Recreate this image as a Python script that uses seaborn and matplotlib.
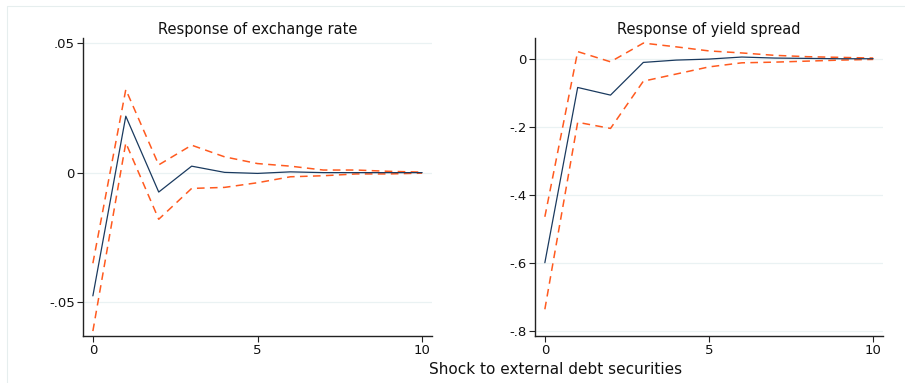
import matplotlib
matplotlib.use("Agg")
import matplotlib.pyplot as plt
import seaborn as sns
import pandas as pd
import numpy as np
from matplotlib.lines import Line2D

sns.set_theme(style="white")
plt.rcParams['font.family'] = ['DejaVu Sans']

steps = list(range(11))

# Response of exchange rate
er_irf = [-0.0476, 0.0218, -0.0075, 0.0025, 0.0001, -0.0003, 0.0003, 0.0, 0.0, 0.0, 0.0]
er_upper = [-0.035, 0.0321, 0.003, 0.0106, 0.0061, 0.0035, 0.0025, 0.001, 0.001, 0.0005, 0.0002]
er_lower = [-0.0612, 0.0115, -0.018, -0.0061, -0.0057, -0.0039, -0.0016, -0.0012, -0.0005, -0.0005, -0.0002]

# Response of yield spread
ys_irf = [-0.600, -0.0845, -0.107, -0.0108, -0.004, -0.001, 0.005, 0.002, 0.001, 0.0, 0.0]
ys_upper = [-0.465, 0.021, -0.009, 0.046, 0.035, 0.023, 0.017, 0.010, 0.006, 0.004, 0.002]
ys_lower = [-0.737, -0.187, -0.205, -0.066, -0.045, -0.024, -0.012, -0.010, -0.007, -0.004, -0.002]

titles = ["Response of exchange rate", "Response of yield spread"]
xticks = [0, 5, 10]
er_yticks = [-0.05, 0, 0.05]
er_yticklabels = ["-.05", "0", ".05"]
ys_yticks = [-0.8, -0.6, -0.4, -0.2, 0]
ys_yticklabels = ["-.8", "-.6", "-.4", "-.2", "0"]
xlabel = "Shock to external debt securities"

W, H = 905, 383
fig = plt.figure(figsize=(W / 100, H / 100), dpi=100)
fig.patch.set_facecolor("white")

def ax_rect(x0, y0, x1, y1):
    return [x0 / W, 1 - y1 / H, (x1 - x0) / W, (y1 - y0) / H]

ax1 = fig.add_axes(ax_rect(83, 38, 432, 336))
ax2 = fig.add_axes(ax_rect(535, 38, 883, 336))

navy = "#1a3a5f"
orange = "#ff5a1f"
grid_c = "#eaf2f3"

panels = [
    (ax1, er_irf, er_upper, er_lower, titles[0], er_yticks, er_yticklabels, (-0.0631, 0.052)),
    (ax2, ys_irf, ys_upper, ys_lower, titles[1], ys_yticks, ys_yticklabels, (-0.8156, 0.061)),
]

for ax, irf, up, lo, title, yt, ytl, ylim in panels:
    df = pd.DataFrame({"step": steps, "irf": irf, "upper": up, "lower": lo})
    for yv in yt:
        ax.axhline(yv, color=grid_c, lw=0.9, zorder=0)
    sns.lineplot(data=df, x="step", y="upper", ax=ax, color=orange, lw=1.1,
                 zorder=3).lines[-1].set_dashes([5, 3.5])
    sns.lineplot(data=df, x="step", y="lower", ax=ax, color=orange, lw=1.1,
                 zorder=3).lines[-1].set_dashes([5, 3.5])
    sns.lineplot(data=df, x="step", y="irf", ax=ax, color=navy, lw=0.9, zorder=4)
    ax.set_xlim(-0.3, 10.3)
    ax.set_ylim(*ylim)
    ax.set_xticks(xticks)
    ax.set_xticklabels([str(t) for t in xticks])
    ax.set_yticks(yt)
    ax.set_yticklabels(ytl)
    ax.set_xlabel("")
    ax.set_ylabel("")
    ax.set_title(title, fontsize=10.5, color="#111111", pad=3)
    for s in ["top", "right"]:
        ax.spines[s].set_visible(False)
    for s in ["left", "bottom"]:
        ax.spines[s].set_color("#222222")
        ax.spines[s].set_linewidth(1.0)
    ax.tick_params(axis="both", which="major", direction="out", length=4, width=0.8,
                   color="#222222", labelsize=9.5, labelcolor="#111111", pad=2,
                   left=True, bottom=True)
    ax.set_facecolor("white")

fig.text(556 / W, 1 - 369 / H, xlabel, ha="center", va="center", fontsize=11, color="#111111")

# faint outer frame (top and left)
fig.add_artist(Line2D([7 / W, 1], [1 - 6 / H, 1 - 6 / H], transform=fig.transFigure,
                      color="#e6eeee", lw=0.8))
fig.add_artist(Line2D([7 / W, 7 / W], [0, 1 - 6 / H], transform=fig.transFigure,
                      color="#e6eeee", lw=0.8))

fig.savefig("out.png", dpi=100, facecolor="white")
